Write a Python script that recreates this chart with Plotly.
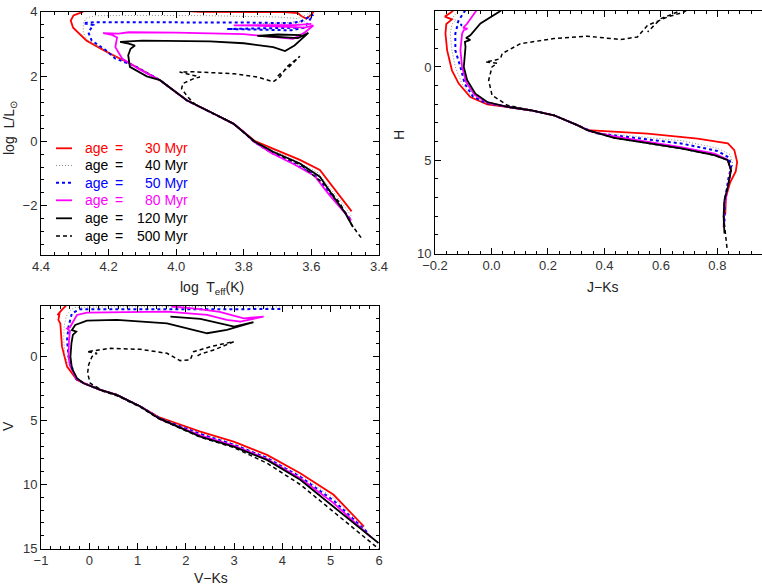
import plotly.graph_objects as go

W, H = 762, 586

# ---------------- Panel 1: HR diagram (log Teff, log L/Lsun) ----------------
logt_30 = [3.481, 3.510, 3.535, 3.575, 3.634, 3.700, 3.767, 3.800, 3.831, 3.890, 3.969, 4.048, 4.127, 4.196, 4.265, 4.305, 4.312, 4.304, 4.280, 4.260, 4.100, 3.930, 3.800, 3.680, 3.640, 3.630, 3.615, 3.600, 3.590]
logl_30 = [-2.17, -1.78, -1.41, -0.89, -0.58, -0.30, 0.00, 0.28, 0.54, 0.85, 1.26, 1.88, 2.34, 2.70, 3.10, 3.50, 3.72, 3.88, 3.97, 4.10, 4.10, 3.99, 3.99, 3.98, 3.95, 3.86, 3.78, 3.90, 4.05]

logt_40 = [3.483, 3.510, 3.540, 3.580, 3.640, 3.705, 3.767, 3.800, 3.831, 3.890, 3.969, 4.048, 4.127, 4.196, 4.262, 4.275, 4.275, 4.265, 4.240, 4.100, 3.900, 3.700, 3.640, 3.615, 3.600, 3.620, 3.660, 3.760, 3.680, 3.620]
logl_40 = [-2.30, -1.90, -1.52, -0.98, -0.64, -0.32, -0.01, 0.28, 0.54, 0.85, 1.26, 1.88, 2.34, 2.70, 3.10, 3.35, 3.65, 3.80, 3.87, 3.88, 3.87, 3.83, 3.78, 3.90, 4.02, 3.68, 3.60, 3.62, 3.65, 3.70]

logt_50 = [3.485, 3.520, 3.550, 3.590, 3.650, 3.720, 3.770, 3.800, 3.831, 3.890, 3.969, 4.048, 4.127, 4.181, 4.210, 4.250, 4.260, 4.245, 4.275, 4.240, 4.000, 3.800, 3.660, 3.630, 3.595, 3.620, 3.660, 3.800, 3.850, 3.750, 3.640]
logl_50 = [-2.40, -1.95, -1.55, -1.05, -0.70, -0.35, -0.02, 0.28, 0.54, 0.85, 1.26, 1.88, 2.34, 2.55, 2.82, 3.10, 3.36, 3.58, 3.64, 3.67, 3.67, 3.66, 3.64, 3.70, 3.90, 3.50, 3.42, 3.44, 3.46, 3.48, 3.50]

logt_80 = [3.482, 3.520, 3.550, 3.590, 3.650, 3.720, 3.770, 3.800, 3.831, 3.890, 3.969, 4.048, 4.110, 4.160, 4.180, 4.175, 4.190, 4.216, 4.170, 4.140, 4.000, 3.800, 3.700, 3.654, 3.620, 3.594, 3.620, 3.650, 3.750, 3.830, 3.750, 3.650, 3.600]
logl_80 = [-2.45, -2.00, -1.62, -1.08, -0.72, -0.36, -0.02, 0.28, 0.54, 0.85, 1.26, 1.88, 2.22, 2.55, 2.90, 3.20, 3.28, 3.33, 3.32, 3.36, 3.35, 3.30, 3.20, 3.16, 3.35, 3.57, 3.50, 3.52, 3.56, 3.57, 3.58, 3.58, 3.62]

logt_120 = [3.477, 3.500, 3.535, 3.575, 3.634, 3.713, 3.767, 3.800, 3.831, 3.890, 3.969, 4.048, 4.087, 4.137, 4.142, 4.135, 4.122, 4.145, 4.166, 4.100, 3.900, 3.800, 3.713, 3.678, 3.650, 3.609, 3.640, 3.710, 3.760, 3.700, 3.630]
logl_120 = [-2.65, -2.22, -1.71, -1.10, -0.69, -0.33, -0.02, 0.28, 0.54, 0.85, 1.26, 1.88, 2.00, 2.29, 2.65, 2.85, 2.95, 3.02, 3.06, 3.10, 3.08, 3.02, 2.90, 2.78, 2.95, 3.34, 3.18, 3.22, 3.25, 3.29, 3.27]

logt_500 = [3.453, 3.480, 3.515, 3.560, 3.630, 3.713, 3.767, 3.800, 3.831, 3.890, 3.940, 3.965, 3.984, 3.980, 3.950, 3.930, 3.960, 3.990, 3.950, 3.900, 3.831, 3.760, 3.713, 3.693, 3.673, 3.634, 3.665, 3.690, 3.705]
logl_500 = [-2.98, -2.60, -1.92, -1.35, -0.75, -0.34, -0.03, 0.28, 0.54, 0.85, 1.10, 1.35, 1.62, 1.78, 1.92, 1.98, 2.05, 2.13, 2.14, 2.12, 2.08, 1.98, 1.83, 1.98, 2.29, 2.62, 2.30, 2.10, 1.95]

# ---------------- Panel 2: J-Ks vs H ----------------
jk_30 = [0.828, 0.830, 0.845, 0.865, 0.870, 0.860, 0.837, 0.730, 0.553, 0.434, 0.340, 0.304, 0.221, 0.138, 0.056, -0.015, -0.075, -0.116, -0.140, -0.157, -0.163, -0.160, -0.140, -0.165, -0.145, -0.130]
h_30 = [7.90, 7.00, 6.20, 5.60, 5.10, 4.46, 4.10, 3.84, 3.57, 3.48, 3.39, 3.12, 2.59, 2.32, 2.14, 2.00, 1.61, 0.89, 0.18, -0.89, -1.79, -2.30, -2.55, -2.70, -2.90, -3.10]

jk_40 = [0.825, 0.830, 0.845, 0.855, 0.845, 0.800, 0.671, 0.434, 0.360, 0.304, 0.221, 0.138, 0.056, -0.015, -0.070, -0.105, -0.128, -0.140, -0.146, -0.140, -0.125, -0.140, -0.120, -0.110]
h_40 = [8.00, 6.80, 5.80, 5.20, 4.70, 4.35, 3.95, 3.60, 3.50, 3.12, 2.59, 2.32, 2.14, 1.95, 1.60, 0.89, 0.00, -0.89, -1.79, -2.30, -2.50, -2.60, -2.95, -3.10]

jk_50 = [0.825, 0.828, 0.840, 0.850, 0.840, 0.800, 0.671, 0.434, 0.370, 0.304, 0.221, 0.138, 0.056, -0.015, -0.065, -0.095, -0.110, -0.128, -0.128, -0.122, -0.105, -0.120, -0.116, -0.098, -0.090]
h_50 = [8.30, 7.00, 5.90, 5.30, 4.85, 4.50, 4.10, 3.67, 3.55, 3.12, 2.59, 2.32, 2.14, 1.95, 1.60, 0.89, 0.00, -0.89, -1.79, -2.14, -2.25, -2.35, -2.50, -2.95, -3.10]

jk_80 = [0.822, 0.825, 0.837, 0.848, 0.835, 0.790, 0.671, 0.434, 0.350, 0.304, 0.221, 0.138, 0.056, -0.015, -0.060, -0.090, -0.104, -0.110, -0.104, -0.098, -0.085, -0.100, -0.086, -0.057, -0.050]
h_80 = [8.60, 7.50, 6.43, 5.50, 4.95, 4.65, 4.30, 3.72, 3.45, 3.12, 2.59, 2.32, 2.14, 1.90, 1.50, 0.80, 0.00, -0.89, -1.79, -1.97, -2.05, -2.10, -2.33, -2.95, -3.10]

jk_120 = [0.825, 0.822, 0.825, 0.837, 0.848, 0.837, 0.789, 0.671, 0.434, 0.340, 0.304, 0.221, 0.138, 0.056, -0.015, -0.057, -0.086, -0.098, -0.092, -0.094, -0.075, -0.090, -0.075, -0.039, 0.026, 0.060]
h_120 = [8.93, 8.00, 7.14, 6.43, 5.54, 5.00, 4.73, 4.37, 3.80, 3.39, 3.12, 2.59, 2.32, 2.14, 1.88, 1.43, 0.71, 0.00, -1.07, -1.35, -1.45, -1.55, -1.70, -2.33, -2.95, -3.30]

jk_500 = [0.834, 0.830, 0.822, 0.825, 0.837, 0.848, 0.837, 0.789, 0.671, 0.434, 0.340, 0.304, 0.221, 0.138, 0.056, 0.002, -0.010, 0.002, 0.020, -0.021, 0.010, 0.032, 0.038, 0.103, 0.221, 0.340, 0.458, 0.517, 0.553, 0.624, 0.683, 0.720, 0.700, 0.659, 0.600, 0.553]
h_500 = [9.70, 9.00, 8.00, 7.14, 6.43, 5.54, 5.00, 4.73, 4.37, 3.80, 3.39, 3.12, 2.59, 2.32, 2.05, 1.52, 0.71, 0.00, -0.20, -0.27, -0.35, -0.45, -0.72, -1.25, -1.52, -1.65, -1.47, -1.61, -2.23, -2.68, -2.95, -3.40, -3.40, -2.95, -2.59, -1.88]

# ---------------- Panel 3: V-Ks vs V ----------------
vk_30 = [5.69, 5.06, 4.37, 3.68, 2.99, 2.30, 1.435, 1.06, 0.57, 0.23, -0.12, -0.255, -0.46, -0.565, -0.60, -0.64, -0.615, -0.66, -0.56, -0.50, -0.45]
v_30 = [13.28, 10.80, 9.11, 7.68, 6.64, 5.86, 4.72, 3.90, 2.99, 2.60, 2.05, 1.82, 0.78, -0.78, -2.60, -2.87, -3.39, -3.25, -3.70, -3.91, -4.20]

vk_40 = [5.72, 5.06, 4.37, 3.68, 2.99, 2.30, 1.50, 1.06, 0.57, 0.23, -0.12, -0.28, -0.50, -0.53, -0.52, -0.47, -0.40, -0.30, 0.50, 2.00, 3.00, 4.00]
v_40 = [13.50, 11.05, 9.30, 7.85, 6.80, 6.00, 4.85, 3.90, 2.99, 2.60, 2.06, 1.75, 0.00, -1.30, -2.40, -3.20, -3.60, -3.85, -3.90, -3.92, -3.92, -3.88]

vk_50 = [5.75, 5.06, 4.37, 3.68, 2.99, 2.30, 1.50, 1.06, 0.57, 0.23, -0.12, -0.28, -0.43, -0.46, -0.43, -0.36, -0.19, 1.61, 3.00, 4.02]
v_50 = [13.70, 11.25, 9.40, 7.92, 6.88, 6.05, 4.90, 3.90, 2.99, 2.60, 2.07, 1.72, 0.00, -1.30, -2.35, -3.39, -3.70, -3.73, -3.74, -3.72]

vk_80 = [5.83, 5.06, 4.37, 3.68, 2.99, 2.30, 1.50, 1.06, 0.57, 0.23, -0.12, -0.27, -0.40, -0.43, -0.42, -0.40, -0.46, -0.40, -0.255, -0.05, 1.61, 2.44, 2.85, 3.13, 3.61, 3.20, 2.70, 2.20, 1.70]
v_80 = [14.10, 11.45, 9.50, 8.00, 6.95, 6.15, 4.95, 3.90, 2.99, 2.60, 2.07, 1.70, 0.70, 0.00, -1.30, -2.00, -2.20, -2.30, -3.26, -3.44, -3.52, -3.26, -2.87, -2.74, -3.13, -3.00, -3.50, -3.75, -3.92]

vk_120 = [5.99, 5.06, 4.37, 3.68, 2.99, 2.30, 1.435, 1.06, 0.57, 0.23, -0.12, -0.255, -0.36, -0.39, -0.37, -0.34, -0.27, -0.36, -0.29, -0.05, 0.57, 1.61, 2.16, 2.44, 2.85, 3.40, 3.00, 2.71, 2.30, 1.68]
v_120 = [14.58, 11.72, 9.63, 8.07, 7.03, 6.25, 4.81, 3.90, 2.99, 2.60, 2.08, 1.69, 0.91, 0.00, -1.04, -1.70, -1.96, -2.08, -2.48, -2.82, -2.87, -2.61, -2.09, -1.83, -2.09, -2.69, -2.35, -2.60, -2.95, -3.13]

vk_500 = [6.05, 5.06, 4.37, 3.68, 2.99, 2.30, 1.435, 1.06, 0.57, 0.30, 0.02, -0.035, -0.014, 0.055, 0.16, -0.048, 0.23, 0.435, 1.06, 1.61, 1.88, 2.09, 2.16, 2.57, 2.99, 2.60, 2.30, 2.20]
v_500 = [15.20, 12.10, 10.00, 8.33, 7.10, 6.30, 4.85, 3.95, 3.05, 2.72, 2.08, 1.30, 0.65, 0.00, -0.26, -0.39, -0.52, -0.65, -0.57, -0.26, 0.31, 0.26, -0.39, -0.84, -1.17, -0.55, -0.20, 0.05]

ages = [30, 40, 50, 80, 120, 500]
age_labels = ["30 Myr", "40 Myr", "50 Myr", "80 Myr", "120 Myr", "500 Myr"]
text_colors = ["#ff0000", "#000000", "#0000ff", "#ff00ff", "#000000", "#000000"]

line_styles = {
    30: dict(color="#ff0000", width=1.8, dash="solid"),
    40: dict(color="#8c8c8c", width=1.0, dash="1px,2px"),
    50: dict(color="#0000ff", width=2.0, dash="3px,3px"),
    80: dict(color="#ff00ff", width=1.8, dash="solid"),
    120: dict(color="#000000", width=1.8, dash="solid"),
    500: dict(color="#000000", width=1.5, dash="4px,3px"),
}

panel1 = {30: (logt_30, logl_30), 40: (logt_40, logl_40), 50: (logt_50, logl_50),
          80: (logt_80, logl_80), 120: (logt_120, logl_120), 500: (logt_500, logl_500)}
panel2 = {30: (jk_30, h_30), 40: (jk_40, h_40), 50: (jk_50, h_50),
          80: (jk_80, h_80), 120: (jk_120, h_120), 500: (jk_500, h_500)}
panel3 = {30: (vk_30, v_30), 40: (vk_40, v_40), 50: (vk_50, v_50),
          80: (vk_80, v_80), 120: (vk_120, v_120), 500: (vk_500, v_500)}

fig = go.Figure()
for data, xa, ya in [(panel1, "x", "y"), (panel2, "x2", "y2"), (panel3, "x3", "y3")]:
    for age in ages:
        xs, ys = data[age]
        fig.add_trace(go.Scatter(x=xs, y=ys, mode="lines", line=line_styles[age],
                                 xaxis=xa, yaxis=ya, showlegend=False, hoverinfo="skip"))

FONT = "Liberation Sans, Arial, sans-serif"
TICKFONT = dict(family=FONT, size=13, color="#333333")


def px_x(p):
    return p / W


def px_y(p):
    return 1 - p / H


def axis(domain, rng, dtick, minor_dtick, tick0, anchor, mirror="allticks", fmt=None, standoff=None):
    d = dict(domain=domain, range=rng, anchor=anchor, automargin=False,
             showline=True, linecolor="black", linewidth=1, layer="above traces",
             mirror=mirror, ticks="inside", ticklen=6, tickwidth=1.2, tickcolor="black",
             showgrid=False, zeroline=False, tickmode="linear", tick0=tick0, dtick=dtick,
             tickfont=TICKFONT,
             minor=dict(ticks="inside", ticklen=3, tickwidth=1.2, tickcolor="black",
                        dtick=minor_dtick, showgrid=False))
    if fmt:
        d["tickformat"] = fmt
    if standoff is not None:
        d["ticklabelstandoff"] = standoff
    return d


P1 = (41, 379, 11.5, 254.5)
P2 = (435, 762, 11, 253.5)
P3 = (41, 379, 305.5, 548.5)

fig.update_layout(
    template="none",
    width=W, height=H, margin=dict(l=0, r=0, t=0, b=0, pad=0), autosize=False,
    paper_bgcolor="white", plot_bgcolor="white", showlegend=False,
    xaxis=axis([px_x(P1[0]), px_x(P1[1])], [4.4, 3.4], 0.2, 0.04, 3.4, "y", fmt=".1f", standoff=0),
    yaxis=axis([px_y(P1[3]), px_y(P1[2])], [-3.5, 4.0], 2, 0.4, 0, "x"),
    xaxis2=axis([px_x(P2[0]), 1.0], [-0.2, 0.958], 0.2, 0.04, 0, "y2", fmt=".1f", standoff=0),
    yaxis2=axis([px_y(P2[3]), px_y(P2[2])], [10, -3], 5, 1, 0, "x2", mirror=False),
    xaxis3=axis([px_x(P3[0]), px_x(P3[1])], [-1, 6], 1, 0.2, 0, "y3", standoff=0),
    yaxis3=axis([px_y(P3[3]), px_y(P3[2])], [15, -4], 5, 1, 0, "x3"),
)

ann = []


def label(text, x, y, size=14, color="#222222", angle=0, xanchor="center"):
    ann.append(dict(text=text, x=px_x(x), y=px_y(y), xref="paper", yref="paper",
                    showarrow=False, xanchor=xanchor, yanchor="middle", textangle=angle,
                    font=dict(family=FONT, size=size, color=color)))


label("log  T<sub>eff</sub>(K)", 212, 288)
label("log  L/L<sub>⊙</sub>", 10, 128, angle=-90)
label("J−Ks", 603, 287)
label("H", 399, 135, angle=-90)
label("V−Ks", 211, 578)
label("V", 8, 426, angle=-90)

legend_rows = [148.3, 165.5, 182.7, 200.3, 218.3, 236.0]
shapes = []
for i, age in enumerate(ages):
    yy = legend_rows[i]
    st = line_styles[age]
    shapes.append(dict(type="line", xref="paper", yref="paper",
                       x0=px_x(56), x1=px_x(72), y0=px_y(yy), y1=px_y(yy),
                       line=dict(color=st["color"], width=st["width"], dash=st["dash"])))
    label("age", 82.5, yy, color=text_colors[i], xanchor="left")
    label("=", 119, yy, color=text_colors[i])
    label(age_labels[i], 190, yy, color=text_colors[i], xanchor="right")

fig.update_layout(annotations=ann, shapes=shapes)
fig.write_html("out.html")
